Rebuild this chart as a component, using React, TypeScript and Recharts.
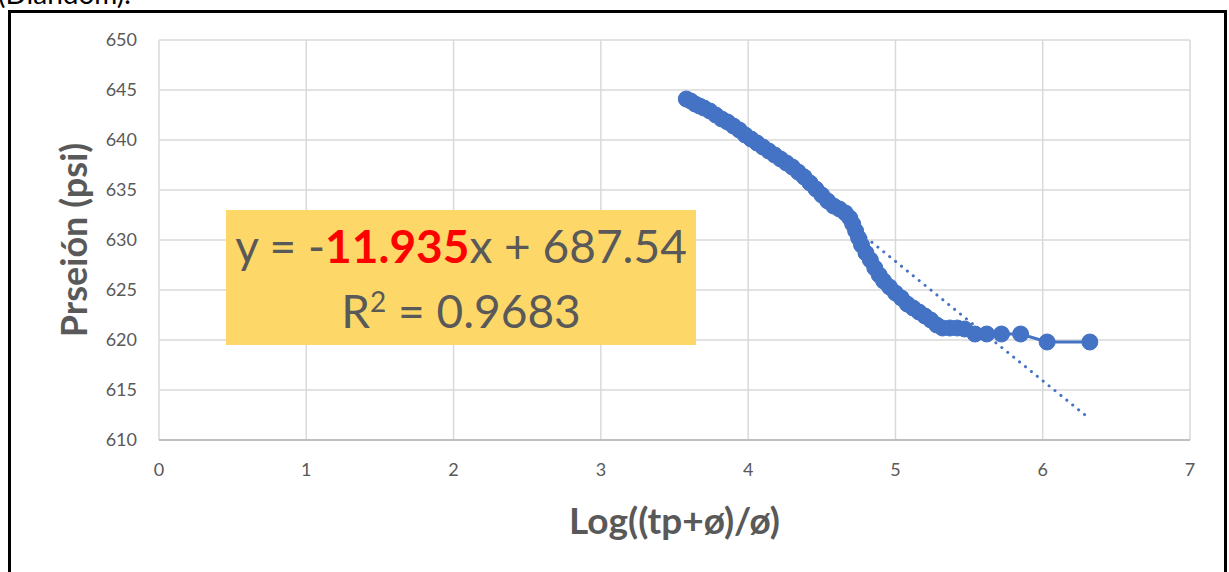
import React from "react";
import { ScatterChart, Scatter, XAxis, YAxis, CartesianGrid, ReferenceLine } from "recharts";

const logTime = [3.58, 3.61, 3.64, 3.67, 3.70, 3.74, 3.78, 3.82, 3.86, 3.90, 3.94, 3.98, 4.02, 4.06, 4.10, 4.14, 4.18, 4.22, 4.26, 4.30, 4.34, 4.38, 4.42, 4.46, 4.50, 4.54, 4.58, 4.62, 4.66, 4.69, 4.71, 4.73, 4.75, 4.77, 4.80, 4.83, 4.86, 4.89, 4.92, 4.96, 5.00, 5.04, 5.08, 5.12, 5.16, 5.20, 5.24, 5.28, 5.32, 5.37, 5.42, 5.47, 5.54, 5.62, 5.72, 5.85, 6.03, 6.32];
const pressure = [644.1, 643.9, 643.6, 643.4, 643.2, 642.9, 642.5, 642.1, 641.8, 641.4, 641.0, 640.5, 640.1, 639.7, 639.3, 638.9, 638.5, 638.1, 637.7, 637.3, 636.8, 636.3, 635.7, 635.1, 634.5, 633.9, 633.4, 633.1, 632.7, 632.2, 631.6, 630.9, 630.2, 629.5, 628.7, 628.0, 627.2, 626.5, 625.9, 625.3, 624.7, 624.2, 623.6, 623.2, 622.8, 622.4, 622.0, 621.5, 621.2, 621.2, 621.2, 621.1, 620.6, 620.6, 620.6, 620.6, 619.8, 619.8];
const xTicks = [0, 1, 2, 3, 4, 5, 6, 7];
const yTicks = [610, 615, 620, 625, 630, 635, 640, 645, 650];
const trendSlope = -11.935;
const trendIntercept = 687.54;
const trendRange = [4.72, 6.3];

const data = logTime.map((x, i) => ({ x, y: pressure[i] }));
const trendSegment = trendRange.map((x) => ({ x, y: trendSlope * x + trendIntercept }));

const BLUE = "#4472C4";
const GREY = "#595959";
const FONT = "Lato, 'Open Sans', sans-serif";

const Dot = (props: any) => {
  const { cx, cy } = props;
  if (cx == null || cy == null) return null;
  return <circle cx={cx} cy={cy} r={8} fill={BLUE} stroke={BLUE} strokeWidth={1} />;
};

const YTitle = (props: any) => {
  const vb = props.viewBox || { x: 0, y: 40, width: 159, height: 400 };
  const cx = 73;
  const cy = vb.y + vb.height / 2;
  return (
    <text
      x={cx}
      y={cy}
      transform={`rotate(-90 ${cx} ${cy})`}
      textAnchor="middle"
      dominantBaseline="central"
      fill={GREY}
      fontSize={36}
      fontWeight={700}
      fontFamily={FONT}
    >
      Prseión (psi)
    </text>
  );
};

export default function App() {
  return (
    <div style={{ position: "absolute", left: 0, top: 0, width: 1229, height: 572, overflow: "hidden", background: "#fff" }}>
      <div
        style={{
          position: "absolute",
          left: -2,
          top: -24,
          fontFamily: FONT,
          fontSize: 28,
          color: "#000",
          whiteSpace: "nowrap",
        }}
      >
        (Diandom).
      </div>
      <div
        style={{
          position: "absolute",
          left: 8,
          top: 10,
          width: 1213,
          height: 600,
          border: "3px solid #000",
          background: "#fff",
        }}
      />
      <div style={{ position: "absolute", left: 0, top: 0 }}>
        <ScatterChart width={1229} height={572} margin={{ top: 40, right: 39, bottom: 0, left: 0 }}>
          <CartesianGrid stroke="#D9D9D9" strokeWidth={1.5} horizontalValues={yTicks} verticalValues={xTicks} />
          <XAxis
            type="number"
            dataKey="x"
            domain={[0, 7]}
            ticks={xTicks}
            height={132}
            tickLine={false}
            tickSize={0}
            tickMargin={23}
            axisLine={{ stroke: "#BFBFBF", strokeWidth: 2 }}
            tick={{ fill: GREY, fontSize: 18, fontFamily: FONT }}
            allowDataOverflow
            label={{
              value: "Log((tp+ø)/ø)",
              position: "insideBottom",
              offset: 38,
              style: { fill: GREY, fontSize: 37, fontWeight: 700, fontFamily: FONT },
            }}
          />
          <YAxis
            type="number"
            dataKey="y"
            domain={[610, 650]}
            ticks={yTicks}
            width={159}
            tickLine={false}
            tickSize={0}
            tickMargin={22}
            axisLine={false}
            tick={{ fill: GREY, fontSize: 18, fontFamily: FONT }}
            allowDataOverflow
            label={<YTitle />}
          />
          <ReferenceLine
            segment={trendSegment}
            stroke={BLUE}
            strokeWidth={3}
            strokeDasharray="0.1 7.5"
            strokeLinecap="round"
            ifOverflow="visible"
          />
          <Scatter
            data={data}
            fill={BLUE}
            line={{ stroke: BLUE, strokeWidth: 3 }}
            lineType="joint"
            shape={<Dot />}
            isAnimationActive={false}
          />
        </ScatterChart>
      </div>
      <div
        style={{
          position: "absolute",
          left: 226,
          top: 210,
          width: 470,
          height: 135,
          background: "#FDD868",
          fontFamily: FONT,
          color: GREY,
          textAlign: "center",
          lineHeight: "65px",
          fontSize: 46,
          paddingTop: 3,
          boxSizing: "border-box",
        }}
      >
        <div style={{ whiteSpace: "nowrap", height: 65 }}>
          y = -<span style={{ color: "#FF0000", fontWeight: 700 }}>11.935</span>x + 687.54
        </div>
        <div style={{ whiteSpace: "nowrap", height: 65 }}>
          R<span style={{ fontSize: 28, position: "relative", top: -16 }}>2</span> = 0.9683
        </div>
      </div>
    </div>
  );
}
